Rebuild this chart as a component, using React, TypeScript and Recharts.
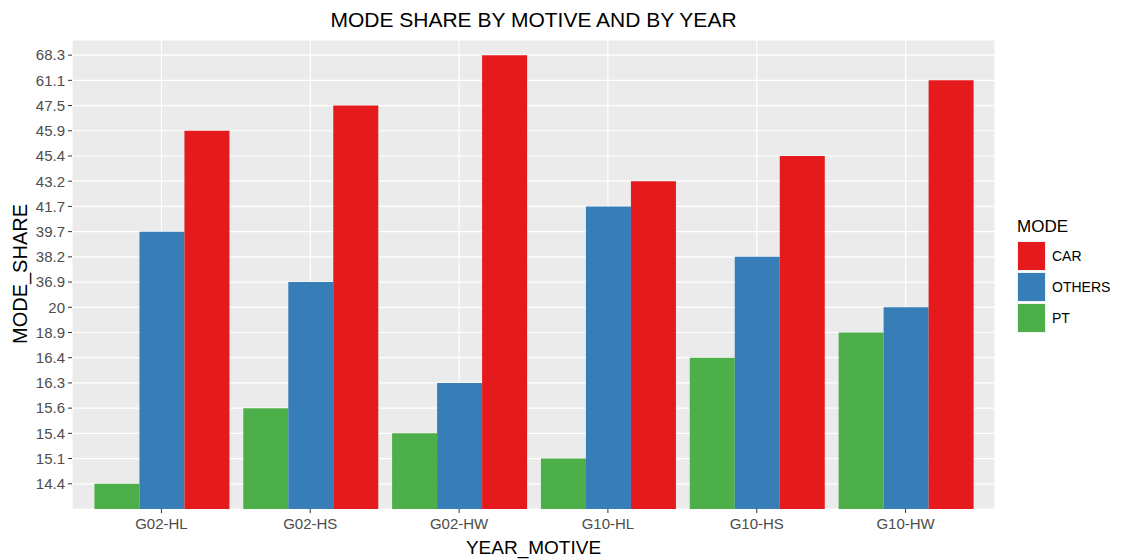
import React from 'react';
import { BarChart, Bar, XAxis, YAxis, CartesianGrid } from 'recharts';

// y axis is discrete in the original: each distinct share value is its own level
const shareLevels = [14.4, 15.1, 15.4, 15.6, 16.3, 16.4, 18.9, 20, 36.9, 38.2, 39.7, 41.7, 43.2, 45.4, 45.9, 47.5, 61.1, 68.3];
const motives = ['G02-HL', 'G02-HS', 'G02-HW', 'G10-HL', 'G10-HS', 'G10-HW'];
const ptShare = [14.4, 15.6, 15.4, 15.1, 16.4, 18.9];
const othersShare = [39.7, 36.9, 16.3, 41.7, 38.2, 20];
const carShare = [45.9, 47.5, 68.3, 43.2, 45.4, 61.1];

const levelOf = (v: number) => shareLevels.indexOf(v) + 1;

const data = motives.map((m, i) => ({
  motive: m,
  PT: levelOf(ptShare[i]),
  OTHERS: levelOf(othersShare[i]),
  CAR: levelOf(carShare[i]),
}));

const FONT = '"Liberation Sans", Arial, sans-serif';
const legendItems = [
  { name: 'CAR', color: '#E41A1C' },
  { name: 'OTHERS', color: '#377EB8' },
  { name: 'PT', color: '#4DAF4A' },
];

export default function App() {
  return (
    <div style={{ position: 'absolute', left: 0, top: 0, width: 1121, height: 559, background: '#fff', fontFamily: FONT, overflow: 'hidden' }}>
      <BarChart
        width={1121}
        height={559}
        data={data}
        margin={{ top: 40, right: 126, left: 0, bottom: 0 }}
        barCategoryGap="5%"
        barGap={0}
      >
        <CartesianGrid fill="#EBEBEB" stroke="#FFFFFF" strokeWidth={1.2} />
        <XAxis
          dataKey="motive"
          height={50}
          padding={{ left: 15, right: 15 }}
          axisLine={false}
          tickLine={{ stroke: '#333333' }}
          tickSize={4}
          tickMargin={5}
          tick={{ fill: '#4D4D4D', fontSize: 15, fontFamily: FONT }}
        />
        <YAxis
          type="number"
          width={72}
          domain={[0, 18.6]}
          ticks={shareLevels.map((_, i) => i + 1)}
          interval={0}
          tickFormatter={(v: number) => String(shareLevels[v - 1])}
          axisLine={false}
          tickLine={{ stroke: '#333333' }}
          tickSize={4}
          tickMargin={3}
          tick={{ fill: '#4D4D4D', fontSize: 15, fontFamily: FONT }}
        />
        <Bar dataKey="PT" fill="#4DAF4A" isAnimationActive={false} />
        <Bar dataKey="OTHERS" fill="#377EB8" isAnimationActive={false} />
        <Bar dataKey="CAR" fill="#E41A1C" isAnimationActive={false} />
      </BarChart>

      <div style={{ position: 'absolute', left: 72, width: 923, top: 7, textAlign: 'center', fontSize: 21, lineHeight: '26px', color: '#000' }}>
        MODE SHARE BY MOTIVE AND BY YEAR
      </div>
      <div style={{ position: 'absolute', left: 72, width: 923, top: 537, textAlign: 'center', fontSize: 19, lineHeight: '22px', color: '#000' }}>
        YEAR_MOTIVE
      </div>
      <div
        style={{
          position: 'absolute', left: 20, top: 274, fontSize: 20, lineHeight: '22px', color: '#000',
          transform: 'translate(-50%, -50%) rotate(-90deg)', whiteSpace: 'nowrap',
        }}
      >
        MODE_SHARE
      </div>

      <div style={{ position: 'absolute', left: 1017, top: 217 }}>
        <div style={{ fontSize: 17, lineHeight: '20px', color: '#000', marginBottom: 3 }}>MODE</div>
        {legendItems.map((it) => (
          <div key={it.name} style={{ display: 'flex', alignItems: 'center', height: 31 }}>
            <div style={{ width: 29, height: 30, background: it.color, border: '1px solid #f2f2f2', boxSizing: 'border-box' }} />
            <span style={{ fontSize: 14, marginLeft: 6, color: '#000' }}>{it.name}</span>
          </div>
        ))}
      </div>
    </div>
  );
}
